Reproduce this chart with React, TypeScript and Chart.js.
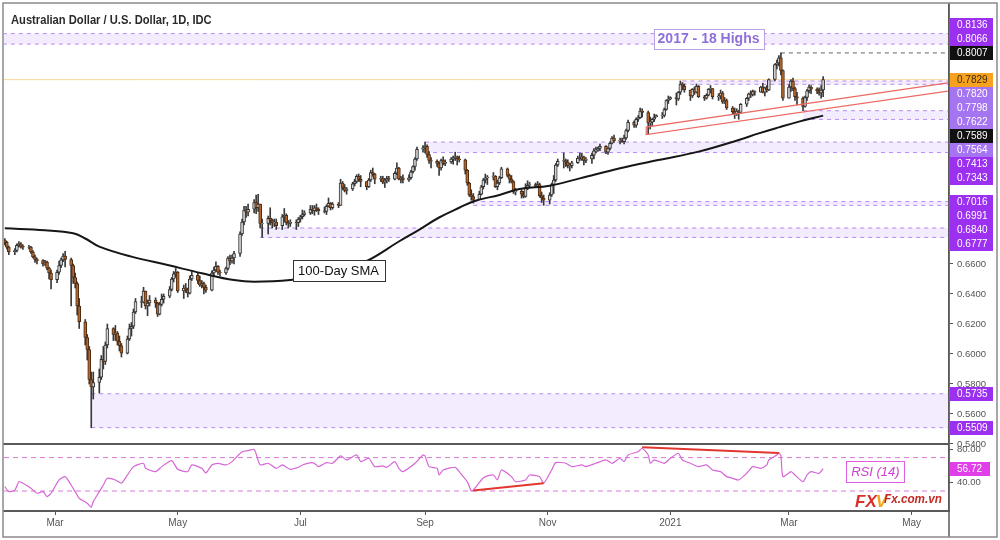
import React, { useEffect, useRef } from "react";
import { Chart, registerables } from "chart.js";

Chart.register(...registerables);

// ---------------- data ----------------
const firstTradingDay = "2020-02-05";
const firstOpen = 0.676;

// daily closes, one row per week (Mon..Fri)
const closes = [
  0.6745, 0.6712, 0.6683,
  0.6690, 0.6725, 0.6735, 0.6718, 0.6712,
  0.6712, 0.6680, 0.6648, 0.6630, 0.6622,
  0.6600, 0.6612, 0.6572, 0.6540, 0.6495,
  0.6545, 0.6590, 0.6628, 0.6652, 0.6630,
  0.6590, 0.6510, 0.6470, 0.6320, 0.6215,
  0.6110, 0.6030, 0.5830, 0.5780, 0.5810,
  0.5845, 0.5965, 0.5950, 0.6060, 0.6170,
  0.6130, 0.6140, 0.6085, 0.6055, 0.6005,
  0.6100, 0.6170, 0.6185, 0.6280, 0.6350,
  0.6345, 0.6420, 0.6320, 0.6340, 0.6360,
  0.6340, 0.6265, 0.6330, 0.6365, 0.6385,
  0.6430, 0.6500, 0.6535, 0.6545, 0.6420,
  0.6440, 0.6430, 0.6405, 0.6500, 0.6525,
  0.6490, 0.6460, 0.6470, 0.6445, 0.6425,
  0.6540, 0.6560, 0.6585, 0.6545, 0.6540,
  0.6570, 0.6640, 0.6620, 0.6640, 0.6670,
  0.6800, 0.6880, 0.6960, 0.6945, 0.6965,
  0.7010, 0.6975, 0.7000, 0.6870, 0.6870,
  0.6905, 0.6890, 0.6875, 0.6880, 0.6855,
  0.6915, 0.6925, 0.6875, 0.6870, 0.6880,
  0.6875, 0.6900, 0.6915, 0.6930, 0.6940,
  0.6965, 0.6955, 0.6975, 0.6965, 0.6955,
  0.6950, 0.6985, 0.7005, 0.6975, 0.7000,
  0.6990, 0.7140, 0.7110, 0.7090, 0.7100,
  0.7135, 0.7150, 0.7185, 0.7165, 0.7150,
  0.7115, 0.7160, 0.7210, 0.7200, 0.7165,
  0.7170, 0.7145, 0.7160, 0.7170, 0.7165,
  0.7205, 0.7240, 0.7165, 0.7175, 0.7160,
  0.7175, 0.7215, 0.7250, 0.7300, 0.7365,
  0.7375, 0.7385, 0.7330, 0.7290, 0.7285,
  0.7270, 0.7240, 0.7290, 0.7270, 0.7280,
  0.7300, 0.7310, 0.7315, 0.7300, 0.7295,
  0.7225, 0.7140, 0.7060, 0.7050, 0.7030,
  0.7065, 0.7115, 0.7160, 0.7175, 0.7180,
  0.7185, 0.7115, 0.7140, 0.7175, 0.7235,
  0.7190, 0.7165, 0.7150, 0.7080, 0.7085,
  0.7065, 0.7050, 0.7110, 0.7125, 0.7130,
  0.7120, 0.7130, 0.7055, 0.7040, 0.7025,
  0.7060, 0.7130, 0.7160, 0.7260, 0.7285,
  0.7290, 0.7280, 0.7255, 0.7255, 0.7275,
  0.7305, 0.7300, 0.7315, 0.7290, 0.7300,
  0.7325, 0.7355, 0.7360, 0.7370, 0.7385,
  0.7345, 0.7370, 0.7405, 0.7440, 0.7420,
  0.7425, 0.7415, 0.7440, 0.7490, 0.7545,
  0.7525, 0.7565, 0.7575, 0.7620, 0.7610,
  0.7540, 0.7545, 0.7565, 0.7580, 0.7590,
  0.7590, 0.7630, 0.7690, 0.7700, 0.7710,
  0.7700, 0.7745, 0.7800, 0.7785, 0.7760,
  0.7720, 0.7765, 0.7745, 0.7785, 0.7715,
  0.7705, 0.7725, 0.7765, 0.7770, 0.7715,
  0.7720, 0.7740, 0.7680, 0.7690, 0.7640,
  0.7615, 0.7600, 0.7620, 0.7610, 0.7665,
  0.7705, 0.7735, 0.7730, 0.7750, 0.7745,
  0.7780, 0.7745, 0.7775, 0.7760, 0.7830,
  0.7930, 0.7940, 0.7975, 0.7890, 0.7705,
  0.7780, 0.7820, 0.7770, 0.7715, 0.7705,
  0.7650, 0.7710, 0.7755, 0.7780, 0.7765,
  0.7755, 0.7740, 0.7760, 0.7829,
];

const highs = [
  0.6770, 0.6752, 0.6720,
  0.6702, 0.6735, 0.6750, 0.6742, 0.6728,
  0.6725, 0.6718, 0.6690, 0.6660, 0.6640,
  0.6630, 0.6625, 0.6620, 0.6580, 0.6560,
  0.6560, 0.6620, 0.6640, 0.6670, 0.6685,
  0.6640, 0.6600, 0.6540, 0.6480, 0.6370,
  0.6230, 0.6130, 0.6050, 0.5880, 0.5880,
  0.5900, 0.5990, 0.6050, 0.6080, 0.6200,
  0.6175, 0.6190, 0.6150, 0.6120, 0.6070,
  0.6120, 0.6200, 0.6210, 0.6300, 0.6370,
  0.6385, 0.6445, 0.6420, 0.6360, 0.6390,
  0.6375, 0.6345, 0.6345, 0.6400, 0.6400,
  0.6450, 0.6510, 0.6550, 0.6570, 0.6550,
  0.6460, 0.6470, 0.6440, 0.6520, 0.6550,
  0.6540, 0.6520, 0.6490, 0.6480, 0.6460,
  0.6555, 0.6580, 0.6615, 0.6590, 0.6560,
  0.6580, 0.6650, 0.6660, 0.6660, 0.6685,
  0.6815, 0.6900, 0.6985, 0.6985, 0.7000,
  0.7030, 0.7060, 0.7065, 0.7000, 0.6900,
  0.6920, 0.6975, 0.6900, 0.6900, 0.6900,
  0.6930, 0.6970, 0.6935, 0.6890, 0.6895,
  0.6895, 0.6910, 0.6925, 0.6960, 0.6955,
  0.6990, 0.6990, 0.6990, 0.7000, 0.6975,
  0.6980, 0.6995, 0.7040, 0.7010, 0.7010,
  0.7010, 0.7165, 0.7150, 0.7130, 0.7110,
  0.7145, 0.7165, 0.7195, 0.7200, 0.7190,
  0.7150, 0.7170, 0.7225, 0.7240, 0.7205,
  0.7185, 0.7185, 0.7170, 0.7185, 0.7185,
  0.7215, 0.7275, 0.7245, 0.7185, 0.7195,
  0.7195, 0.7225, 0.7255, 0.7310, 0.7380,
  0.7390, 0.7413, 0.7395, 0.7350, 0.7310,
  0.7295, 0.7280, 0.7300, 0.7315, 0.7295,
  0.7310, 0.7320, 0.7345, 0.7320, 0.7320,
  0.7300, 0.7230, 0.7145, 0.7095, 0.7070,
  0.7085, 0.7125, 0.7170, 0.7200, 0.7190,
  0.7210, 0.7190, 0.7160, 0.7185, 0.7245,
  0.7240, 0.7200, 0.7190, 0.7155, 0.7105,
  0.7095, 0.7085, 0.7135, 0.7155, 0.7145,
  0.7140, 0.7150, 0.7140, 0.7080, 0.7060,
  0.7075, 0.7140, 0.7190, 0.7270, 0.7300,
  0.7340, 0.7300, 0.7295, 0.7270, 0.7285,
  0.7320, 0.7340, 0.7340, 0.7320, 0.7310,
  0.7340, 0.7370, 0.7380, 0.7380, 0.7400,
  0.7390, 0.7375, 0.7415, 0.7450, 0.7460,
  0.7440, 0.7440, 0.7460, 0.7500, 0.7560,
  0.7555, 0.7575, 0.7590, 0.7640, 0.7635,
  0.7620, 0.7580, 0.7570, 0.7600, 0.7595,
  0.7610, 0.7640, 0.7695, 0.7720, 0.7715,
  0.7740, 0.7750, 0.7820, 0.7810, 0.7800,
  0.7760, 0.7770, 0.7780, 0.7800, 0.7790,
  0.7725, 0.7735, 0.7770, 0.7790, 0.7770,
  0.7735, 0.7760, 0.7750, 0.7710, 0.7700,
  0.7650, 0.7640, 0.7635, 0.7625, 0.7670,
  0.7710, 0.7740, 0.7755, 0.7760, 0.7755,
  0.7785, 0.7805, 0.7780, 0.7790, 0.7835,
  0.7935, 0.7960, 0.7990, 0.8007, 0.7895,
  0.7795, 0.7830, 0.7840, 0.7780, 0.7745,
  0.7715, 0.7720, 0.7765, 0.7795, 0.7790,
  0.7775, 0.7775, 0.7790, 0.7849,
];

const lows = [
  0.6728, 0.6700, 0.6662,
  0.6662, 0.6680, 0.6712, 0.6705, 0.6698,
  0.6700, 0.6670, 0.6640, 0.6610, 0.6600,
  0.6585, 0.6590, 0.6560, 0.6500, 0.6434,
  0.6475, 0.6530, 0.6575, 0.6615, 0.6580,
  0.6320, 0.6470, 0.6440, 0.6260, 0.6170,
  0.6060, 0.5960, 0.5800, 0.5509, 0.5700,
  0.5740, 0.5830, 0.5900, 0.5930, 0.6040,
  0.6090, 0.6090, 0.6060, 0.6020, 0.5980,
  0.6000, 0.6090, 0.6120, 0.6170, 0.6270,
  0.6310, 0.6340, 0.6300, 0.6255, 0.6320,
  0.6310, 0.6250, 0.6260, 0.6320, 0.6340,
  0.6375, 0.6420, 0.6480, 0.6510, 0.6410,
  0.6370, 0.6410, 0.6380, 0.6400, 0.6490,
  0.6470, 0.6450, 0.6440, 0.6400, 0.6410,
  0.6420, 0.6520, 0.6550, 0.6530, 0.6520,
  0.6530, 0.6560, 0.6595, 0.6605, 0.6600,
  0.6650, 0.6790, 0.6860, 0.6910, 0.6920,
  0.6940, 0.6935, 0.6950, 0.6840, 0.6777,
  0.6800, 0.6860, 0.6840, 0.6850, 0.6830,
  0.6830, 0.6880, 0.6860, 0.6840, 0.6850,
  0.6830, 0.6850, 0.6880, 0.6900, 0.6920,
  0.6930, 0.6935, 0.6925, 0.6950, 0.6930,
  0.6940, 0.6930, 0.6980, 0.6960, 0.6965,
  0.6975, 0.6990, 0.7095, 0.7080, 0.7065,
  0.7090, 0.7120, 0.7140, 0.7150, 0.7115,
  0.7095, 0.7110, 0.7150, 0.7185, 0.7135,
  0.7150, 0.7135, 0.7110, 0.7140, 0.7150,
  0.7160, 0.7195, 0.7160, 0.7140, 0.7140,
  0.7150, 0.7165, 0.7205, 0.7225, 0.7290,
  0.7345, 0.7340, 0.7310, 0.7270, 0.7240,
  0.7250, 0.7190, 0.7225, 0.7260, 0.7255,
  0.7270, 0.7265, 0.7290, 0.7260, 0.7280,
  0.7200, 0.7125, 0.7050, 0.7025, 0.7006,
  0.7030, 0.7060, 0.7100, 0.7140, 0.7130,
  0.7160, 0.7110, 0.7095, 0.7130, 0.7170,
  0.7180, 0.7140, 0.7140, 0.7070, 0.7060,
  0.7040, 0.7040, 0.7045, 0.7095, 0.7110,
  0.7110, 0.7110, 0.7045, 0.7010, 0.6991,
  0.7000, 0.7050, 0.7070, 0.7150, 0.7250,
  0.7240, 0.7250, 0.7240, 0.7220, 0.7240,
  0.7270, 0.7290, 0.7290, 0.7260, 0.7275,
  0.7270, 0.7300, 0.7340, 0.7350, 0.7355,
  0.7335, 0.7330, 0.7360, 0.7400, 0.7410,
  0.7400, 0.7410, 0.7400, 0.7430, 0.7480,
  0.7510, 0.7510, 0.7550, 0.7570, 0.7580,
  0.7465, 0.7500, 0.7520, 0.7550, 0.7580,
  0.7570, 0.7580, 0.7625, 0.7670, 0.7695,
  0.7660, 0.7690, 0.7730, 0.7760, 0.7745,
  0.7690, 0.7710, 0.7730, 0.7740, 0.7710,
  0.7690, 0.7700, 0.7720, 0.7740, 0.7700,
  0.7690, 0.7700, 0.7670, 0.7670, 0.7630,
  0.7600, 0.7570, 0.7590, 0.7565, 0.7605,
  0.7650, 0.7690, 0.7710, 0.7720, 0.7725,
  0.7745, 0.7740, 0.7720, 0.7745, 0.7755,
  0.7820, 0.7900, 0.7920, 0.7860, 0.7690,
  0.7710, 0.7750, 0.7755, 0.7690, 0.7660,
  0.7622, 0.7645, 0.7690, 0.7740, 0.7735,
  0.7735, 0.7725, 0.7705, 0.7715,
];

// 100-day simple moving average
const smaDates = [
  "2020-02-05", "2020-02-25", "2020-03-10", "2020-03-16", "2020-03-23", "2020-04-08",
  "2020-04-26", "2020-05-13", "2020-05-29", "2020-06-08", "2020-06-26", "2020-07-10",
  "2020-07-23", "2020-08-03", "2020-08-19", "2020-08-29", "2020-09-08", "2020-09-18",
  "2020-09-26", "2020-10-08", "2020-10-18", "2020-11-02", "2020-11-17", "2020-12-07",
  "2020-12-26", "2021-01-15", "2021-02-04", "2021-02-14", "2021-02-24", "2021-03-06",
  "2021-03-18",
];
const smaValues = [
  0.6838, 0.6825, 0.6805, 0.6770, 0.6716, 0.6649,
  0.6593, 0.6538, 0.6493, 0.6482, 0.6493, 0.6525,
  0.6575, 0.6620, 0.6750, 0.6828, 0.6910, 0.6975,
  0.7022, 0.7060, 0.7100, 0.7122, 0.7171, 0.7238,
  0.7293, 0.7349, 0.7427, 0.7471, 0.7511, 0.7549,
  0.7589,
];

// RSI (14)
const rsiDates = [
  "2020-02-05", "2020-02-07", "2020-02-10", "2020-02-12", "2020-02-14", "2020-02-18",
  "2020-02-21", "2020-02-24", "2020-02-26", "2020-02-28", "2020-03-03", "2020-03-06",
  "2020-03-09", "2020-03-11", "2020-03-13", "2020-03-17", "2020-03-19", "2020-03-20",
  "2020-03-23", "2020-03-25", "2020-03-27", "2020-03-31", "2020-04-03", "2020-04-06",
  "2020-04-09", "2020-04-14", "2020-04-15", "2020-04-20", "2020-04-23", "2020-04-28",
  "2020-05-01", "2020-05-06", "2020-05-08", "2020-05-13", "2020-05-15", "2020-05-18",
  "2020-05-21", "2020-05-25", "2020-05-28", "2020-06-02", "2020-06-05", "2020-06-08",
  "2020-06-09", "2020-06-11", "2020-06-15", "2020-06-19", "2020-06-22", "2020-06-26",
  "2020-06-30", "2020-07-02", "2020-07-07", "2020-07-09", "2020-07-10", "2020-07-14",
  "2020-07-17", "2020-07-21", "2020-07-24", "2020-07-29", "2020-07-31", "2020-08-04",
  "2020-08-07", "2020-08-11", "2020-08-13", "2020-08-17", "2020-08-19", "2020-08-21",
  "2020-08-27", "2020-08-31", "2020-09-01", "2020-09-03", "2020-09-07", "2020-09-08",
  "2020-09-10", "2020-09-16", "2020-09-18", "2020-09-22", "2020-09-24", "2020-09-25",
  "2020-09-29", "2020-10-01", "2020-10-05", "2020-10-07", "2020-10-09", "2020-10-14",
  "2020-10-16", "2020-10-21", "2020-10-23", "2020-10-28", "2020-10-30", "2020-11-03",
  "2020-11-05", "2020-11-10", "2020-11-13", "2020-11-18", "2020-11-20", "2020-11-25",
  "2020-11-30", "2020-12-03", "2020-12-07", "2020-12-09", "2020-12-11", "2020-12-16",
  "2020-12-18", "2020-12-21", "2020-12-22", "2020-12-24", "2020-12-29", "2021-01-01",
  "2021-01-05", "2021-01-07", "2021-01-11", "2021-01-15", "2021-01-19", "2021-01-22",
  "2021-01-26", "2021-01-29", "2021-02-01", "2021-02-04", "2021-02-08", "2021-02-11",
  "2021-02-15", "2021-02-18", "2021-02-19", "2021-02-23", "2021-02-24", "2021-02-25",
  "2021-02-26", "2021-03-02", "2021-03-04", "2021-03-08", "2021-03-10", "2021-03-12",
  "2021-03-16", "2021-03-18",
];
const rsiValues = [
  35.2, 29.2, 31.0, 41.2, 39.3, 33.3,
  27.3, 29.2, 23.3, 27.3, 43.2, 47.2,
  37.2, 29.2, 21.3, 15.3, 10.5, 17.3,
  29.2, 37.2, 45.2, 43.2, 39.3, 49.2,
  59.2, 63.2, 57.2, 53.2, 59.2, 66.4,
  56.0, 53.2, 61.2, 57.2, 51.6, 61.2,
  63.2, 61.2, 65.2, 77.1, 78.3, 80.0,
  74.4, 61.2, 63.2, 57.2, 61.2, 56.0,
  58.4, 61.2, 64.0, 61.2, 59.2, 64.0,
  63.2, 72.0, 67.2, 73.2, 65.2, 69.2,
  59.2, 60.0, 58.4, 65.2, 57.2, 53.2,
  63.2, 73.2, 72.0, 59.2, 57.2, 49.2,
  55.2, 58.4, 53.2, 41.2, 30.0, 31.0,
  43.2, 47.2, 49.2, 43.2, 55.2, 47.2,
  41.2, 43.2, 49.2, 47.2, 39.3, 55.2,
  64.0, 63.2, 59.2, 61.2, 59.2, 63.2,
  67.2, 63.2, 69.2, 65.2, 73.2, 77.1,
  81.2, 73.2, 63.2, 67.2, 63.2, 69.2,
  75.2, 67.2, 63.2, 59.2, 61.2, 55.2,
  53.2, 47.2, 45.2, 43.2, 51.2, 59.2,
  57.2, 61.2, 67.2, 73.2, 75.6, 72.0,
  47.2, 53.2, 49.2, 41.2, 49.2, 53.2,
  51.2, 56.72,
];
const rsiLevels = [70, 30];
const rsiDivLowDates = ["2020-09-25", "2020-10-30"];
const rsiDivLowValues = [30.5, 39.3];
const rsiDivHighDates = ["2020-12-18", "2021-02-24"];
const rsiDivHighValues = [82.4, 75.6];

// support / resistance zones
const zoneLows = [0.8066, 0.7798, 0.7564, 0.7343, 0.6991, 0.6777, 0.5509];
const zoneHighs = [0.8136, 0.7820, 0.7622, 0.7413, 0.7016, 0.6840, 0.5735];
const zoneStarts = ["2020-02-04", "2021-01-07", "2021-03-08", "2020-09-01", "2020-09-25", "2020-06-11", "2020-03-19"];
const lastPrice = 0.7829;
const peakLevel = 0.8007;
const peakDate = "2021-02-25";

// rising channel
const channelDates = ["2020-12-20", "2021-05-19"];
const channelUpper = [0.7513, 0.7807];
const channelLower = [0.7463, 0.7753];

// right-hand price labels
const axisLabelValues = [0.8136, 0.8066, 0.8007, 0.7829, 0.782, 0.7798, 0.7622, 0.7589, 0.7564, 0.7413, 0.7343, 0.7016, 0.6991, 0.684, 0.6777, 0.5735, 0.5509];
const axisLabelKinds = ["zone", "zone", "peak", "last", "soft", "soft", "soft", "sma", "soft", "zone", "zone", "zone", "zone", "zone", "zone", "zone", "zone"];

const priceTicks = [0.54, 0.56, 0.58, 0.6, 0.62, 0.64, 0.66];
const rsiTicks = [40, 80];
const monthTickDates = ["2020-03-01", "2020-05-01", "2020-07-01", "2020-09-01", "2020-11-01", "2021-01-01", "2021-03-01", "2021-05-01"];
const monthTickLabels = ["Mar", "May", "Jul", "Sep", "Nov", "2021", "Mar", "May"];

const titleText = "Australian Dollar / U.S. Dollar, 1D, IDC";
const zoneNote = "2017 - 18 Highs";
const zoneNoteDate = "2021-01-20";
const zoneNoteValue = 0.8101;
const smaNote = "100-Day SMA";
const smaNoteDate = "2020-07-20";
const smaNoteValue = 0.6557;
const rsiNote = "RSI (14)";
const rsiNoteDate = "2021-04-13";
const rsiNoteValue = 52.8;

const viewStart = "2020-02-05";
const viewEnd = "2021-05-19";

// ---------------- helpers ----------------
const DAY_MS = 86400000;
const EPOCH = Date.UTC(2020, 2, 1);
const dayOf = (s: string) => (Date.parse(s + "T00:00:00Z") - EPOCH) / DAY_MS;

function tradingDays(start: string, n: number): number[] {
  const out: number[] = [];
  let t = Date.parse(start + "T00:00:00Z");
  while (out.length < n) {
    const wd = new Date(t).getUTCDay();
    if (wd !== 0 && wd !== 6) out.push((t - EPOCH) / DAY_MS);
    t += DAY_MS;
  }
  return out;
}

const SANS = "'Liberation Sans', Arial, sans-serif";
const ZONE_LINE = "#b58cf2";
const ZONE_FILL = "rgba(190, 150, 250, 0.18)";

function drawBox(ctx: CanvasRenderingContext2D, cx: number, cy: number, w: number, h: number, fill: string, stroke: string | null, text: string, font: string, color: string) {
  const x = Math.round(cx - w / 2) + 0.5;
  const y = Math.round(cy - h / 2) + 0.5;
  ctx.fillStyle = fill;
  ctx.fillRect(x, y, w, h);
  if (stroke) {
    ctx.strokeStyle = stroke;
    ctx.lineWidth = 1;
    ctx.setLineDash([]);
    ctx.strokeRect(x, y, w, h);
  }
  ctx.fillStyle = color;
  ctx.font = font;
  ctx.textAlign = "center";
  ctx.textBaseline = "middle";
  ctx.fillText(text, cx, cy + 0.5);
}

export default function App() {
  const ref = useRef<HTMLCanvasElement>(null);

  useEffect(() => {
    const canvas = ref.current;
    if (!canvas) return;
    const xMin = dayOf(viewStart) - 0.4;
    const xMax = dayOf(viewEnd) + 0.6;

    const days = tradingDays(firstTradingDay, closes.length);
    const opens = closes.map((c, i) => (i === 0 ? firstOpen : closes[i - 1]));
    const up = closes.map((c, i) => c >= opens[i]);
    const wickData = days.map((d, i) => ({
      x: d,
      y: [Math.min(lows[i], opens[i], closes[i]), Math.max(highs[i], opens[i], closes[i])],
    }));
    const bodyData = days.map((d, i) => {
      const lo = Math.min(opens[i], closes[i]);
      const hi = Math.max(opens[i], closes[i]);
      return { x: d, y: [lo, hi - lo < 0.0001 ? lo + 0.0001 : hi] };
    });

    const datasets: any[] = [];
    // zones
    zoneLows.forEach((lo, i) => {
      const s = dayOf(zoneStarts[i]);
      datasets.push({
        type: "line", yAxisID: "y", order: 20,
        data: [{ x: s, y: lo }, { x: xMax, y: lo }],
        borderColor: ZONE_LINE, borderWidth: 1, borderDash: [4, 4], pointRadius: 0, fill: false,
      });
      datasets.push({
        type: "line", yAxisID: "y", order: 20,
        data: [{ x: s, y: zoneHighs[i] }, { x: xMax, y: zoneHighs[i] }],
        borderColor: ZONE_LINE, borderWidth: 1, borderDash: [4, 4], pointRadius: 0,
        fill: "-1", backgroundColor: ZONE_FILL,
      });
    });
    // last price line
    datasets.push({
      type: "line", yAxisID: "y", order: 19,
      data: [{ x: xMin, y: lastPrice }, { x: xMax, y: lastPrice }],
      borderColor: "rgba(245, 166, 35, 0.45)", borderWidth: 1, pointRadius: 0, fill: false,
    });
    // peak line
    datasets.push({
      type: "line", yAxisID: "y", order: 19,
      data: [{ x: dayOf(peakDate), y: peakLevel }, { x: xMax, y: peakLevel }],
      borderColor: "#666", borderWidth: 1, borderDash: [4, 4], pointRadius: 0, fill: false,
    });
    // candles
    datasets.push({
      type: "bar", yAxisID: "y", order: 10, grouped: false,
      data: wickData, backgroundColor: "#3a3a3a", barThickness: 1,
    });
    datasets.push({
      type: "bar", yAxisID: "y", order: 9, grouped: false,
      data: bodyData,
      backgroundColor: up.map((u) => (u ? "#d4d4d4" : "#b3672e")),
      borderColor: up.map((u) => (u ? "#333333" : "#4d2c12")),
      borderWidth: 1, borderSkipped: false, barThickness: 3,
    });
    // SMA
    datasets.push({
      type: "line", yAxisID: "y", order: 5,
      data: smaDates.map((d, i) => ({ x: dayOf(d), y: smaValues[i] })),
      borderColor: "#161616", borderWidth: 2, pointRadius: 0, tension: 0.4, fill: false,
    });
    // channel
    datasets.push({
      type: "line", yAxisID: "y", order: 4,
      data: [
        { x: dayOf(channelDates[1]), y: channelUpper[1] },
        { x: dayOf(channelDates[0]), y: channelUpper[0] },
        { x: dayOf(channelDates[0]), y: channelLower[0] },
        { x: dayOf(channelDates[1]), y: channelLower[1] },
      ],
      borderColor: "#ec6a64", borderWidth: 1.2, pointRadius: 0, fill: false, tension: 0,
    });
    // RSI levels
    rsiLevels.forEach((lv) => {
      datasets.push({
        type: "line", yAxisID: "yr", order: 3,
        data: [{ x: xMin, y: lv }, { x: xMax, y: lv }],
        borderColor: "#d87ad8", borderWidth: 1, borderDash: [5, 4], pointRadius: 0, fill: false,
      });
    });
    // RSI line
    datasets.push({
      type: "line", yAxisID: "yr", order: 2,
      data: rsiDates.map((d, i) => ({ x: dayOf(d), y: rsiValues[i] })),
      borderColor: "#d666d6", borderWidth: 1.2, pointRadius: 0, tension: 0.2, fill: false,
    });
    // RSI divergence lines
    datasets.push({
      type: "line", yAxisID: "yr", order: 1,
      data: rsiDivLowDates.map((d, i) => ({ x: dayOf(d), y: rsiDivLowValues[i] })),
      borderColor: "#e2372f", borderWidth: 2, pointRadius: 0, fill: false,
    });
    datasets.push({
      type: "line", yAxisID: "yr", order: 1,
      data: rsiDivHighDates.map((d, i) => ({ x: dayOf(d), y: rsiDivHighValues[i] })),
      borderColor: "#e2372f", borderWidth: 2, pointRadius: 0, fill: false,
    });

    const overlay = {
      id: "overlay",
      afterLayout(chart: any) {
        // the RSI axis shares the price axis column: give its labels room to draw
        const yr = chart.scales.yr;
        if (yr) yr.right = yr.left + 51;
      },
      beforeDraw(chart: any) {
        const ctx = chart.ctx;
        ctx.save();
        ctx.fillStyle = "#ffffff";
        ctx.fillRect(0, 0, chart.width, chart.height);
        ctx.restore();
      },
      afterDatasetsDraw(chart: any) {
        const ctx: CanvasRenderingContext2D = chart.ctx;
        const xs = chart.scales.x, ys = chart.scales.y, yr = chart.scales.yr;
        ctx.save();
        drawBox(ctx, xs.getPixelForValue(dayOf(zoneNoteDate)), ys.getPixelForValue(zoneNoteValue), 110, 20,
          "rgba(255,255,255,0.92)", "#b9a2e6", zoneNote, `bold 14px ${SANS}`, "#8f6fd8");
        drawBox(ctx, xs.getPixelForValue(dayOf(smaNoteDate)), ys.getPixelForValue(smaNoteValue), 92, 21,
          "#ffffff", "#333333", smaNote, `13px ${SANS}`, "#111111");
        drawBox(ctx, xs.getPixelForValue(dayOf(rsiNoteDate)), yr.getPixelForValue(rsiNoteValue), 58, 21,
          "rgba(255,255,255,0.9)", "#e05ce0", rsiNote, `italic 13px ${SANS}`, "#d23cd2");
        ctx.restore();
      },
      afterDraw(chart: any) {
        const ctx: CanvasRenderingContext2D = chart.ctx;
        const ys = chart.scales.y, yr = chart.scales.yr;
        const area = chart.chartArea;
        ctx.save();
        ctx.setLineDash([]);
        // pane separator
        ctx.strokeStyle = "#5a5a5a";
        ctx.lineWidth = 2;
        ctx.beginPath();
        ctx.moveTo(3, 444);
        ctx.lineTo(area.right, 444);
        ctx.stroke();
        // axis line full height
        ctx.lineWidth = 1.5;
        ctx.beginPath();
        ctx.moveTo(area.right, 3);
        ctx.lineTo(area.right, 537);
        ctx.stroke();
        // frame
        ctx.strokeStyle = "#8a8a8a";
        ctx.lineWidth = 1.5;
        ctx.strokeRect(3, 3, 994, 534);

        // title (horizontally condensed like the source)
        ctx.save();
        ctx.translate(11, 20);
        ctx.scale(0.86, 1);
        ctx.fillStyle = "#2b2b2b";
        ctx.font = `bold 13px ${SANS}`;
        ctx.textAlign = "left";
        ctx.textBaseline = "middle";
        ctx.fillText(titleText, 0, 0);
        ctx.restore();

        // price labels on the right axis
        const H = 14;
        const pinY = ys.getPixelForValue(lastPrice);
        const items = axisLabelValues.map((v, i) => ({ v, kind: axisLabelKinds[i], y: ys.getPixelForValue(v) }));
        const above = items.filter((it) => it.v > lastPrice).sort((a, b) => b.y - a.y);
        let prev = pinY;
        for (const it of above) { it.y = Math.min(it.y, prev - H); prev = it.y; }
        const below = items.filter((it) => it.v < lastPrice).sort((a, b) => a.y - b.y);
        prev = pinY;
        for (const it of below) { it.y = Math.max(it.y, prev + H); prev = it.y; }
        const colors: Record<string, [string, string]> = {
          zone: ["#9b30f0", "#ffffff"],
          soft: ["#a574f0", "#ffffff"],
          peak: ["#111111", "#ffffff"],
          sma: ["#111111", "#ffffff"],
          last: ["#f6a21e", "#3a2a10"],
        };
        ctx.font = `10px ${SANS}`;
        for (const it of items) {
          const [bg, fg] = colors[it.kind];
          ctx.fillStyle = bg;
          ctx.fillRect(area.right + 1, Math.round(it.y - 7), 43, 14);
          ctx.fillStyle = fg;
          ctx.textAlign = "left";
          ctx.textBaseline = "middle";
          ctx.fillText(it.v.toFixed(4), area.right + 8, it.y + 0.5);
        }
        // RSI value label
        const rsiLast = rsiValues[rsiValues.length - 1];
        const ry = yr.getPixelForValue(rsiLast);
        ctx.fillStyle = "#e03ee8";
        ctx.fillRect(area.right + 1, Math.round(ry - 7), 40, 14);
        ctx.fillStyle = "#ffffff";
        ctx.fillText(rsiLast.toFixed(2), area.right + 8, ry + 0.5);

        // watermark
        ctx.textBaseline = "alphabetic";
        ctx.font = `italic bold 17px ${SANS}`;
        ctx.fillStyle = "#d8302a";
        ctx.fillText("FX", 855, 507);
        const fxw = ctx.measureText("FX").width;
        ctx.fillStyle = "#f2a71b";
        ctx.fillText("V", 855 + fxw - 1, 507);
        ctx.save();
        ctx.translate(884, 503);
        ctx.scale(0.9, 1);
        ctx.font = `italic bold 13px ${SANS}`;
        ctx.fillStyle = "#c42a25";
        ctx.fillText("Fx.com.vn", 0, 0);
        ctx.restore();
        ctx.restore();
      },
    };

    const tickFont = { family: SANS, size: 9.5 };
    const chart = new Chart(canvas, {
      type: "bar",
      data: { datasets },
      plugins: [overlay],
      options: {
        animation: false,
        responsive: false,
        maintainAspectRatio: false,
        devicePixelRatio: 1,
        events: [],
        layout: { padding: { left: 4, top: 4, right: 0, bottom: 0 } },
        plugins: { legend: { display: false }, tooltip: { enabled: false }, title: { display: false } },
        scales: {
          x: {
            type: "linear", position: "bottom", min: xMin, max: xMax, offset: false, bounds: "data",
            grid: { drawOnChartArea: false, drawTicks: true, tickLength: 4, color: "#555", offset: false },
            border: { display: true, color: "#5a5a5a", width: 2 },
            ticks: {
              autoSkip: false, maxRotation: 0, minRotation: 0, color: "#555", padding: 2,
              font: { family: SANS, size: 10 },
              callback: (_v: any, i: number) => monthTickLabels[i],
            },
            afterBuildTicks: (s: any) => { s.ticks = monthTickDates.map((d) => ({ value: dayOf(d) })); },
            afterFit: (s: any) => { s.height = 29; s.paddingLeft = 0; s.paddingRight = 0; },
          } as any,
          y: {
            type: "linear", position: "right", min: 0.4953333, max: 0.8333333, weight: 1, bounds: "data",
            grid: { drawOnChartArea: false, drawTicks: true, tickLength: 4, color: "#555" },
            border: { display: true, color: "#5a5a5a", width: 1.5 },
            ticks: { color: "#555", padding: 4, font: tickFont, callback: (v: any) => Number(v).toFixed(4) },
            afterBuildTicks: (s: any) => { s.ticks = priceTicks.map((v) => ({ value: v })); },
            afterFit: (s: any) => { s.width = 51; s.paddingTop = 0; s.paddingBottom = 0; },
          } as any,
          yr: {
            type: "linear", position: "right", min: 6.06, max: 613.2, weight: 0, bounds: "data",
            grid: { drawOnChartArea: false, drawTicks: true, tickLength: 4, color: "#555" },
            border: { display: false },
            ticks: { color: "#555", padding: 4, font: tickFont, callback: (v: any) => Number(v).toFixed(2) },
            afterBuildTicks: (s: any) => { s.ticks = rsiTicks.map((v) => ({ value: v })); },
            afterFit: (s: any) => { s.width = 0; s.paddingTop = 0; s.paddingBottom = 0; },
          } as any,
        },
      } as any,
    });
    return () => chart.destroy();
  }, []);

  return (
    <div style={{ position: "fixed", left: 0, top: 0, width: 1000, height: 540, background: "#fff" }}>
      <canvas ref={ref} width={1000} height={540} style={{ display: "block", width: 1000, height: 540 }} />
    </div>
  );
}
